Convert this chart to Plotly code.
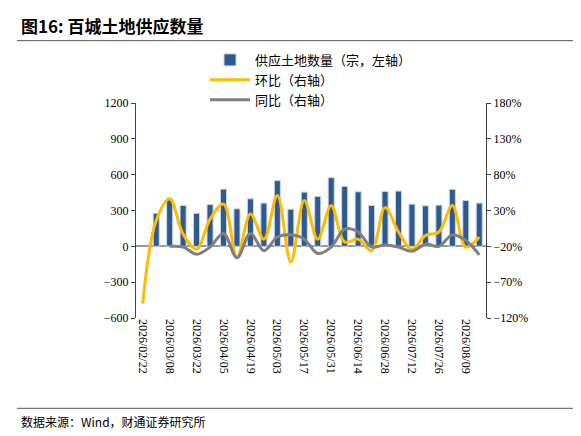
import pandas as pd
import plotly.graph_objects as go

dates = pd.date_range('2026-02-22', periods=26, freq='7D').strftime('%Y/%m/%d').tolist()
supply = [None, 277, 404, 342, 277, 350, 479, 314, 398, 362, 550, 311, 454, 418, 575,
          502, 457, 342, 460, 463, 353, 339, 345, 477, 384, 362]
mom = [-100, 16, 46, -3, -24, 18, 39, -35, 25, -10, 51, -42, 44, -10, 37, -14, -10, -26,
       34, 0, -24, -5, 0, 37, -21, -7]
yoy = [None, None, -20, -21, -31, -21, -2, -36, -2, -26, -7, -4, -10, -30, -21, 4, 0,
       -21, -18, -21, -27, -17, -20, -4, -12, -32]
tickdates = dates[::2]

font = "Noto Sans CJK SC"
fig = go.Figure()
fig.add_trace(go.Bar(x=dates, y=supply, name='供应土地数量（宗，左轴）',
                     marker=dict(color='#2f5a8f', line=dict(color='#c9d6e8', width=1)), width=0.45))
fig.add_trace(go.Scatter(x=dates, y=mom, name='环比（右轴）', yaxis='y2', mode='lines',
                         line=dict(color='#ffbb00', width=3, shape='spline')))
fig.add_trace(go.Scatter(x=dates, y=yoy, name='同比（右轴）', yaxis='y2', mode='lines',
                         line=dict(color='#7f7f7f', width=3, shape='spline')))

fig.update_layout(
    width=581, height=436, plot_bgcolor='white', paper_bgcolor='white',
    margin=dict(l=128, r=103, t=95, b=126),
    font=dict(family=font, size=12, color='black'),
    bargap=0.5, showlegend=True,
    legend=dict(x=0.5, y=1.27, xanchor='center', yanchor='top', bgcolor='rgba(0,0,0,0)',
                font=dict(size=13), tracegroupgap=0, itemwidth=40),
    xaxis=dict(type='category', tickvals=tickdates, tickangle=90, showline=False,
               ticks='', tickfont=dict(family='Times New Roman, Liberation Serif', size=12)),
    yaxis=dict(range=[-600, 1200], dtick=300, showgrid=False, zeroline=True, zerolinecolor='#999',
               showline=True, linecolor='#444', ticks='outside', ticklen=4,
               tickfont=dict(family='Liberation Serif', size=12)),
    yaxis2=dict(range=[-120, 180], dtick=50, tick0=-120, overlaying='y', side='right', showgrid=False,
                zeroline=False, showline=True, linecolor='#444', ticks='outside', ticklen=4,
                ticksuffix='%', tickfont=dict(family='Liberation Serif', size=12)),
)
fig.add_annotation(text='<b>图16: 百城土地供应数量</b>', xref='paper', yref='paper', x=-0.335, y=1.36,
                   xanchor='left', yanchor='middle', showarrow=False, font=dict(size=17, family=font))
fig.add_annotation(text='数据来源：Wind，财通证券研究所', xref='paper', yref='paper', x=-0.335, y=-0.48,
                   xanchor='left', yanchor='middle', showarrow=False, font=dict(size=12, family=font))
fig.add_shape(type='line', xref='paper', yref='paper', x0=-0.34, x1=1.3, y0=1.29, y1=1.29,
              line=dict(color='#555', width=1))
fig.add_shape(type='line', xref='paper', yref='paper', x0=-0.34, x1=1.3, y0=-0.42, y1=-0.42,
              line=dict(color='#555', width=1))
fig.write_html('out.html')
